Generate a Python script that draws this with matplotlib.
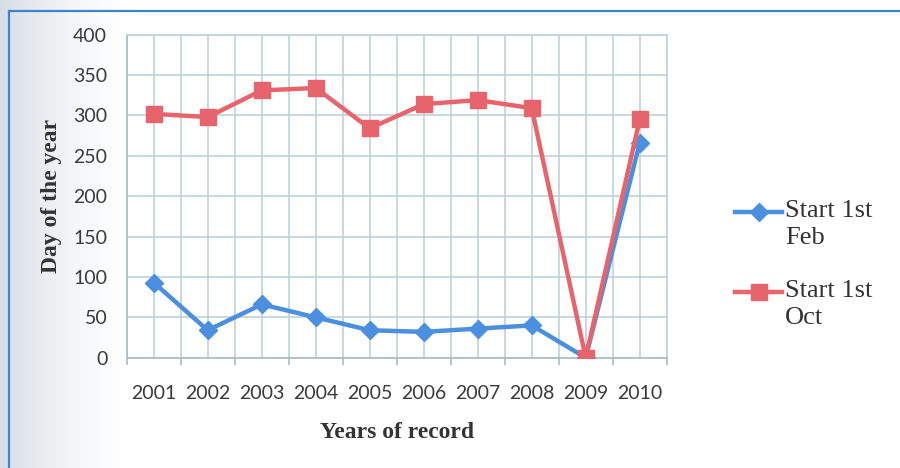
import numpy as np
import matplotlib
matplotlib.use("Agg")
from matplotlib import pyplot as plt
from matplotlib.lines import Line2D
from matplotlib.patches import Rectangle

years = ["2001", "2002", "2003", "2004", "2005", "2006", "2007", "2008", "2009", "2010"]
start_feb = [93, 34, 66, 50, 34, 32, 36, 40, 0, 266]
start_oct = [302, 298, 331, 334, 284, 314, 319, 309, 0, 295]
y_ticks = [0, 50, 100, 150, 200, 250, 300, 350, 400]

blue = "#4a8fe0"
red = "#e8646c"
grid_col = "#bcd3dc"
tick_font = "Lato"
serif_font = "Liberation Serif"

fig = plt.figure(figsize=(9, 4.68), dpi=100)
fig.patch.set_facecolor("white")

# soft grey shading along the left edge of the sheet
bg = fig.add_axes([0, 0, 1, 1], zorder=-10)
grad = np.linspace(0, 1, 900)
shade = np.clip(1 - grad / 0.15, 0, 1) ** 1.6
img = np.ones((2, 900, 3))
base = np.array([0.84, 0.87, 0.90])
for c in range(3):
    img[:, :, c] = 1 - (1 - base[c]) * shade
bg.imshow(img, aspect="auto", extent=[0, 1, 0, 1])
bg.set_xlim(0, 1)
bg.set_ylim(0, 1)
bg.axis("off")

# chart frame
fig.patches.append(Rectangle((9 / 900, -0.1), 1.2, 1 - 11 / 468 + 0.1,
                             transform=fig.transFigure, fill=False,
                             edgecolor="#3f82d4", linewidth=1.6, zorder=5))

ax = fig.add_axes([126.7 / 900, 1 - 357.7 / 468, 0.6, 323 / 468])
ax.set_facecolor("white")
x = np.arange(len(years))

ax.plot(x, start_feb, color=blue, linewidth=3.2, marker="D", markersize=9,
        markeredgecolor=blue, zorder=3, solid_joinstyle="round")
ax.plot(x, start_oct, color=red, linewidth=3.2, marker="s", markersize=12,
        markeredgecolor=red, zorder=4, solid_joinstyle="round")

ax.set_xlim(-0.5, len(years) - 0.5)
ax.set_ylim(0, 400)
ax.set_xticks(x)
ax.set_xticklabels(years)
ax.set_xticks(np.arange(-0.5, len(years)), minor=True)
ax.set_yticks(y_ticks)
ax.tick_params(axis="x", which="major", length=0, pad=20, labelsize=14,
               labelcolor="#3a3a3a")
ax.tick_params(axis="x", which="minor", length=5, color="#a8bcc6", width=1.2)
ax.tick_params(axis="y", length=0, pad=14, labelsize=14, labelcolor="#3a3a3a")
for lab in ax.get_xticklabels() + ax.get_yticklabels():
    lab.set_fontfamily(tick_font)

ax.grid(True, which="both", axis="x", color=grid_col, linewidth=1.2)
ax.grid(True, which="major", axis="y", color=grid_col, linewidth=1.2)
ax.set_axisbelow(True)
for side, sp in ax.spines.items():
    sp.set_color(grid_col)
    sp.set_linewidth(1.2)
ax.spines["bottom"].set_color("#a8bcc6")
ax.spines["left"].set_color("#a8bcc6")

ax.set_xlabel("Years of record", fontfamily=serif_font, fontweight="bold",
              fontsize=17, color="#333333", labelpad=14)
ax.set_ylabel("Day of the year", fontfamily=serif_font, fontweight="bold",
              fontsize=17, color="#333333", labelpad=8)

# legend drawn beside the plot
entries = [(blue, "D", 9, "Start 1st\nFeb", 212), (red, "s", 12, "Start 1st\nOct", 292)]
for col, mk, ms, label, ypix in entries:
    yf = 1 - ypix / 468
    fig.lines.append(Line2D([735 / 900, 782 / 900], [yf, yf], transform=fig.transFigure,
                            color=col, linewidth=3.2))
    fig.lines.append(Line2D([758.5 / 900], [yf], transform=fig.transFigure,
                            color=col, marker=mk, markersize=ms, linestyle="none"))
    fig.text(785 / 900, yf + 12 / 468, label, fontfamily=serif_font, fontsize=19,
             color="#333333", va="top", ha="left", linespacing=1.3)

fig.savefig("out.png", dpi=100)
